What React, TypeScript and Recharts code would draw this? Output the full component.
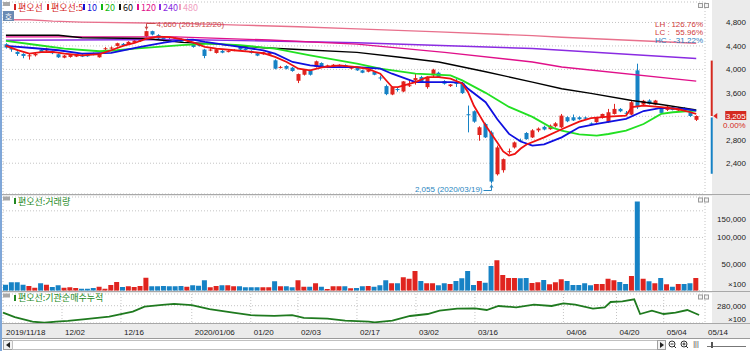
import {
  Bar,
  CartesianGrid,
  Cell,
  ComposedChart,
  Line,
  ReferenceDot,
  ReferenceLine,
  XAxis,
  YAxis,
} from 'recharts'

const FONT = "'Liberation Sans', 'Noto Sans CJK KR', sans-serif"
const KFONT = "'Noto Sans CJK KR', 'Liberation Sans', sans-serif"
const UP = '#e0241f'
const DOWN = '#1682c5'
const GRID = '#c4c4c4'

// trading-day index of each date label
const dateTicks = [0, 10, 20, 32, 42, 50, 60, 70, 80, 95, 104, 112, 119]
const dateLabels = ['2019/11/18', '12/02', '12/16', '2020/01/06', '01/20', '02/03', '02/17', '03/02', '03/16', '04/06', '04/20', '05/04', '05/14']
const priceTicks = [2400, 2800, 3200, 3600, 4000, 4400, 4800]
const volumeTicks = [50000, 100000, 150000]
const instTicks = [280000]

// [open, high, low, close]
const ohlc = [
  [4429, 4446, 4355, 4372], [4372, 4390, 4300, 4338], [4298, 4310, 4230, 4263], [4263, 4275, 4190, 4229],
  [4226, 4270, 4166, 4240], [4240, 4280, 4220, 4263], [4332, 4345, 4280, 4292], [4320, 4370, 4305, 4355],
  [4309, 4320, 4260, 4275], [4258, 4270, 4195, 4206], [4200, 4245, 4190, 4235], [4212, 4255, 4200, 4246],
  [4218, 4262, 4210, 4252], [4252, 4262, 4210, 4218], [4258, 4268, 4215, 4223], [4275, 4285, 4240, 4246],
  [4206, 4270, 4200, 4263], [4352, 4380, 4330, 4360], [4360, 4390, 4345, 4372], [4400, 4455, 4390, 4446],
  [4435, 4450, 4400, 4412], [4429, 4480, 4420, 4469], [4458, 4500, 4450, 4492], [4480, 4525, 4470, 4515],
  [4566, 4660, 4550, 4652], [4652, 4660, 4580, 4595], [4583, 4600, 4510, 4526], [4549, 4565, 4480, 4492],
  [4520, 4540, 4470, 4480], [4538, 4550, 4480, 4492], [4515, 4530, 4460, 4469], [4480, 4525, 4470, 4515],
  [4440, 4455, 4370, 4383], [4420, 4430, 4390, 4400], [4338, 4350, 4190, 4229], [4330, 4360, 4310, 4338],
  [4280, 4355, 4270, 4343], [4315, 4330, 4275, 4286], [4305, 4325, 4290, 4312], [4320, 4345, 4310, 4330],
  [4383, 4395, 4330, 4338], [4350, 4360, 4320, 4330], [4315, 4325, 4270, 4280], [4275, 4285, 4225, 4235],
  [4258, 4300, 4250, 4292], [4252, 4295, 4245, 4286], [4155, 4170, 4000, 4012], [4035, 4060, 4015, 4042],
  [4058, 4070, 4000, 4012], [4029, 4040, 3960, 3972], [3806, 3930, 3766, 3920], [3909, 4005, 3895, 3995],
  [3983, 3995, 3895, 3909], [4040, 4150, 4030, 4138], [4109, 4120, 4045, 4058], [4046, 4080, 4035, 4069],
  [4050, 4090, 4040, 4080], [4060, 4085, 4050, 4068], [4075, 4085, 4030, 4040], [4012, 4050, 4000, 4040],
  [4023, 4035, 3975, 3983], [3983, 3995, 3935, 3943], [3960, 4000, 3950, 3990], [3955, 3965, 3900, 3909],
  [3862, 3895, 3810, 3855], [3715, 3740, 3560, 3578], [3572, 3710, 3560, 3698], [3665, 3700, 3620, 3655],
  [3623, 3800, 3610, 3795], [3722, 3810, 3700, 3730], [3812, 3925, 3740, 3852], [3869, 3890, 3770, 3783],
  [3698, 3880, 3670, 3869], [3897, 4010, 3870, 3995], [3943, 3960, 3860, 3869], [3801, 3815, 3740, 3755],
  [3715, 3750, 3700, 3743], [3770, 3840, 3700, 3762], [3766, 3780, 3580, 3595], [3235, 3383, 2926, 3225],
  [3286, 3300, 3090, 3109], [2881, 3030, 2783, 3012], [3069, 3090, 2830, 2841], [2926, 2955, 2055, 2087],
  [2212, 2700, 2190, 2669], [2281, 2480, 2240, 2469], [2595, 2650, 2560, 2605], [2669, 2770, 2650, 2755],
  [2790, 2820, 2760, 2780], [2915, 2930, 2800, 2812], [2840, 2980, 2830, 2960], [2960, 3010, 2930, 2990],
  [3020, 3040, 2960, 2975], [2980, 3060, 2970, 3040], [3030, 3100, 3010, 3080], [3012, 3240, 3000, 3212],
  [3185, 3200, 3100, 3115], [3183, 3230, 3120, 3130], [3183, 3200, 3140, 3150], [3180, 3195, 3150, 3160],
  [3080, 3095, 3050, 3070], [3100, 3190, 3090, 3183], [3172, 3245, 3160, 3240], [3098, 3326, 3090, 3269],
  [3240, 3412, 3230, 3326], [3326, 3340, 3270, 3286], [3260, 3290, 3220, 3250], [3229, 3460, 3220, 3440],
  [3983, 4097, 3326, 3355], [3400, 3480, 3380, 3465], [3469, 3490, 3400, 3412], [3400, 3480, 3390, 3469],
  [3343, 3360, 3250, 3258], [3309, 3380, 3290, 3366], [3355, 3370, 3300, 3309], [3298, 3360, 3290, 3343],
  [3343, 3355, 3280, 3286], [3269, 3280, 3190, 3205], [3140, 3215, 3120, 3205],
]

// x100 shares
const volumes = [
  11300, 15700, 15700, 11300, 8800, 5700, 13900, 11300, 7000, 10100, 5700, 6300, 5100, 3800, 3800, 5100,
  7600, 3800, 10700, 16400, 7000, 8200, 7000, 8800, 24500, 8200, 8200, 8800, 8200, 8200, 8800, 7600,
  10100, 9500, 19500, 6300, 8800, 10100, 10100, 8200, 8200, 6300, 6300, 6300, 6300, 6300, 17600, 8200,
  8200, 6300, 19500, 7600, 7600, 13900, 7600, 3200, 8200, 8200, 8200, 4500, 5100, 8200, 8800, 7600,
  10100, 19500, 13900, 13900, 25100, 22600, 37000, 18200, 13900, 13900, 10100, 13900, 12600, 18200, 23300, 37000,
  10700, 18200, 15000, 46400, 57100, 29500, 23900, 23900, 23300, 23900, 14500, 15700, 20100, 12000, 15700, 21400,
  18200, 10700, 10700, 13900, 10100, 12600, 12600, 22600, 19500, 16400, 12600, 27600, 167400, 22600, 17600, 13900,
  23900, 12000, 7600, 12600, 12600, 13900, 23900,
]

// moving averages: [day index, value]
const ma5 = [[0, 4400], [2, 4330], [4, 4270], [6, 4295], [8, 4300], [10, 4270], [13, 4240], [16, 4260], [18, 4326], [20, 4400], [22, 4450], [24, 4526], [26, 4560], [28, 4550], [30, 4515], [32, 4460], [34, 4383], [36, 4355], [39, 4326], [42, 4298], [44, 4275], [46, 4212], [48, 4126], [50, 4012], [52, 3983], [54, 4035], [57, 4069], [60, 4040], [62, 4005], [64, 3926], [66, 3700], [67, 3698], [70, 3783], [72, 3869], [74, 3869], [76, 3841], [78, 3760], [79, 3612], [80, 3380], [82, 3041], [84, 2755], [85, 2600], [86, 2530], [87, 2560], [88, 2650], [89, 2720], [92, 2840], [95, 2980], [98, 3110], [100, 3170], [103, 3195], [106, 3212], [107, 3355], [109, 3383], [112, 3355], [115, 3320], [117, 3269], [118, 3241]]
const ma10 = [[0, 4400], [5, 4360], [9, 4326], [13, 4270], [18, 4280], [23, 4383], [27, 4458], [30, 4498], [32, 4509], [34, 4469], [40, 4383], [44, 4326], [46, 4269], [49, 4126], [52, 4069], [55, 4040], [60, 4040], [64, 4012], [66, 3926], [70, 3783], [76, 3783], [78, 3770], [79, 3669], [82, 3440], [84, 3150], [86, 2900], [88, 2770], [90, 2700], [92, 2720], [95, 2841], [98, 3012], [101, 3069], [106, 3155], [109, 3290], [112, 3343], [116, 3326], [118, 3298]]
const ma20 = [[0, 4486], [5, 4420], [10, 4355], [16, 4309], [19, 4326], [22, 4355], [30, 4412], [35, 4440], [40, 4412], [46, 4355], [52, 4240], [60, 4097], [64, 4012], [70, 3926], [76, 3898], [78, 3812], [82, 3600], [86, 3360], [90, 3190], [93, 3020], [95, 2955], [98, 2890], [101, 2869], [103, 2898], [106, 2955], [109, 3069], [112, 3241], [114, 3269], [118, 3298]]
const ma60 = [[0, 4583], [9, 4583], [13, 4540], [24, 4526], [30, 4460], [35, 4440], [44, 4370], [50, 4340], [60, 4290], [67, 4210], [74, 4126], [82, 3960], [90, 3783], [95, 3670], [100, 3590], [107, 3469], [112, 3400], [118, 3310]]
const ma120 = [[0, 4554], [29, 4554], [45, 4500], [60, 4430], [75, 4290], [90, 4126], [95, 4040], [118, 3800]]
const ma240 = [[0, 4498], [30, 4510], [60, 4455], [90, 4355], [95, 4326], [118, 4186]]
const ma480 = [[0, 4846], [4, 4846], [8, 4823], [13, 4806], [24, 4790], [30, 4784], [40, 4755], [50, 4726], [60, 4690], [74, 4640], [90, 4575], [95, 4548], [118, 4445]]

// 기관순매수누적 (x100)
const inst = [[0, 266000], [2, 257000], [5, 248000], [7, 246000], [9, 248000], [11, 249500], [14, 253000], [18, 258000], [20, 263000], [22, 268000], [24, 278000], [27, 281500], [29, 283500], [32, 281000], [35, 273000], [39, 266000], [42, 261000], [46, 259500], [49, 261000], [51, 255500], [55, 254000], [58, 250000], [62, 248000], [63, 246800], [66, 250000], [69, 259400], [72, 263400], [74, 270000], [77, 274000], [80, 274800], [82, 271400], [84, 279400], [87, 276800], [90, 282000], [93, 279400], [95, 284800], [97, 282000], [100, 274000], [102, 276800], [103, 287400], [105, 288800], [107, 292800], [108, 263400], [110, 270000], [112, 263400], [114, 266000], [116, 271400], [118, 261400]]

const highNote = { i: 24, price: 4660, text: '4,660 (2019/12/20)' }
const lowNote = { i: 83, price: 2055, text: '2,055 (2020/03/19)' }
const last = { i: 118, price: 3205, change: '0.00%', rangeTop: 4150, rangeBottom: 2220 }

const rows: any[] = Array.from({ length: 120 }, (_, i) => {
  const k = ohlc[i]
  return k ? { i, o: k[0], h: k[1], l: k[2], c: k[3], v: volumes[i] } : { i }
})
const put = (key: string, pts: number[][]) => pts.forEach(([i, v]) => { rows[i][key] = v })
put('ma5', ma5)
put('ma10', ma10)
put('ma20', ma20)
put('ma60', ma60)
put('ma120', ma120)
put('ma240', ma240)
put('ma480', ma480)
put('inst', inst)

const fmt = (v: number) => v.toLocaleString('en-US')

const Candle = (p: any) => {
  const d = p.payload
  if (!d || d.o == null) return <g />
  const top = Math.min(p.y, p.y + p.height)
  const ht = Math.abs(p.height)
  const py = (v: number) => top + ((d.h - v) / (d.h - d.l)) * ht
  const color = d.c >= d.o ? UP : DOWN
  const cx = Math.round(p.x + p.width / 2) + 0.5
  const b1 = py(Math.max(d.o, d.c))
  const b2 = py(Math.min(d.o, d.c))
  return (
    <g>
      <line x1={cx} x2={cx} y1={top} y2={top + ht} stroke={color} />
      <rect x={cx - 2} y={b1} width={4} height={Math.max(1, b2 - b1)} fill={color} />
    </g>
  )
}

const PriceTick = ({ y, payload }: any) =>
  payload.value === 3200 ? <g /> : (
    <text x={746} y={y} dy={3} textAnchor="end" fontSize={8} fill="#222" fontFamily={FONT}>{fmt(payload.value)}</text>
  )

const VolTick = ({ y, payload }: any) => (
  <text x={746} y={y} dy={payload.value === 150000 ? 11 : 3} textAnchor="end" fontSize={8} fill="#222" fontFamily={FONT}>{fmt(payload.value)}</text>
)

const InstTick = ({ y, payload }: any) => (
  <text x={746} y={y} dy={3} textAnchor="end" fontSize={8} fill="#222" fontFamily={FONT}>{fmt(payload.value)}</text>
)

const DateTick = ({ x, y, payload }: any) => (
  <text x={x + 3} y={y + 12} fontSize={8} fill="#222" fontFamily={FONT}>{dateLabels[dateTicks.indexOf(payload.value)]}</text>
)

const HighMark = ({ cx, cy }: any) => {
  const x = Math.round(cx) + 0.5
  const t = Math.round(cy) - 7.5
  const col = '#c94a4a'
  return (
    <g>
      <polyline points={`${x + 9},${t} ${x},${t} ${x},${cy - 1}`} fill="none" stroke={col} />
      <path d={`M${x - 2},${cy - 4} L${x + 2},${cy - 4} L${x},${cy - 1} Z`} fill={col} />
      <text x={x + 10} y={t + 3} fontSize={8} fill={col} fontFamily={FONT}>{highNote.text}</text>
    </g>
  )
}

const LowMark = ({ cx, cy }: any) => {
  const x = Math.round(cx) + 0.5
  const b = Math.round(cy) + 7.5
  const col = '#2a86c0'
  return (
    <g>
      <polyline points={`${x - 8},${b} ${x},${b} ${x},${cy + 1}`} fill="none" stroke={col} />
      <path d={`M${x - 2},${cy + 4} L${x + 2},${cy + 4} L${x},${cy + 1} Z`} fill={col} />
      <text x={x - 9} y={b + 1} textAnchor="end" fontSize={8} fill={col} fontFamily={FONT}>{lowNote.text}</text>
    </g>
  )
}

const PriceTag = ({ cx, cy }: any) => {
  const y = Math.round(cy)
  const x = cx + 17
  return (
    <g>
      <path d={`M${x},${y} L${x + 4},${y - 3} L${x + 4},${y + 3} Z`} fill={UP} />
      <rect x={x + 12} y={y - 5} width={21} height={9} fill="#d42a20" />
      <text x={x + 32.5} y={y + 3} textAnchor="end" fontSize={8} fill="#fff" fontFamily={FONT}>{fmt(last.price)}</text>
      <text x={x + 32.5} y={y + 12} textAnchor="end" fontSize={8} fill="#d42a20" fontFamily={FONT}>{last.change}</text>
    </g>
  )
}

const rangeShape = (color: string) => (p: any) => (
  <line x1={p.x1 + 15.5} x2={p.x2 + 15.5} y1={p.y1} y2={p.y2} stroke={color} strokeWidth={2} />
)

const maLine = (key: string, color: string, w = 1.6) => (
  <Line
    key={key}
    dataKey={key}
    stroke={color}
    strokeWidth={w}
    dot={false}
    connectNulls
    isAnimationActive={false}
  />
)

const legend = [
  { t: '편오선', c: '#d42020', x: 14 },
  { t: '편오선:5', c: '#d42020', x: 47 },
  { t: '10', c: '#1010d8', x: 83 },
  { t: '20', c: '#10b810', x: 101 },
  { t: '60', c: '#111', x: 119 },
  { t: '120', c: '#e0108a', x: 137 },
  { t: '240', c: '#8a2be2', x: 159 },
  { t: '480', c: '#f0a0c0', x: 179 },
]

const PanelBits = ({ y }: { y: number }) => (
  <g>
    <rect x={3} y={y} width={7} height={4} fill="#a8a8a8" />
    <rect x={698.5} y={y + 1.5} width={4} height={4} fill="#f4f4f4" stroke="#9a9a9a" />
    <rect x={704.5} y={y + 1.5} width={4} height={4} fill="#f4f4f4" stroke="#9a9a9a" />
  </g>
)

export default function App() {
  return (
    <div style={{ position: 'fixed', left: 0, top: 0, width: 750, height: 351, background: '#ebebeb', overflow: 'hidden', fontFamily: FONT }}>
      <div style={{ position: 'absolute', left: 2, top: 0, width: 710, height: 194, background: '#fff' }} />
      <div style={{ position: 'absolute', left: 2, top: 196, width: 710, height: 95, background: '#fff' }} />
      <div style={{ position: 'absolute', left: 2, top: 293, width: 710, height: 30, background: '#fff' }} />

      <div style={{ position: 'absolute', left: 0, top: 0 }}>
        <ComposedChart width={750} height={195} data={rows} margin={{ top: 2, right: 0, bottom: 1, left: 3 }}>
          <CartesianGrid stroke={GRID} strokeDasharray="1 2" />
          <XAxis dataKey="i" ticks={dateTicks} interval={0} tick={false} axisLine={false} tickLine={false} height={0} />
          <YAxis orientation="right" width={45} domain={[1875, 5149]} ticks={priceTicks} interval={0} tick={(p: any) => <PriceTick {...p} />} axisLine={false} tickLine={false} allowDataOverflow />
          <Bar dataKey={(d: any) => (d.o == null ? null : [d.l, d.h])} barSize={5} shape={(p: any) => <Candle {...p} />} isAnimationActive={false} />
          {maLine('ma480', '#e8708c', 1.4)}
          {maLine('ma240', '#8a2be2', 1.4)}
          {maLine('ma120', '#e0108a', 1.4)}
          {maLine('ma60', '#000000', 1.4)}
          {maLine('ma20', '#22e022', 1.8)}
          {maLine('ma10', '#1010e0', 1.8)}
          {maLine('ma5', '#ee1111', 1.8)}
          <ReferenceDot x={highNote.i} y={highNote.price} r={0} shape={(p: any) => <HighMark {...p} />} />
          <ReferenceDot x={lowNote.i} y={lowNote.price} r={0} shape={(p: any) => <LowMark {...p} />} />
          <ReferenceLine segment={[{ x: last.i, y: last.rangeTop }, { x: last.i, y: last.price }]} shape={rangeShape('#d42a20')} />
          <ReferenceLine segment={[{ x: last.i, y: last.price - 25 }, { x: last.i, y: last.rangeBottom }]} shape={rangeShape(DOWN)} />
          <ReferenceDot x={last.i} y={last.price} r={0} shape={(p: any) => <PriceTag {...p} />} />
        </ComposedChart>
      </div>

      <div style={{ position: 'absolute', left: 0, top: 195 }}>
        <ComposedChart width={750} height={96} data={rows} margin={{ top: 2, right: 0, bottom: 0.3, left: 3 }}>
          <CartesianGrid stroke={GRID} strokeDasharray="1 2" />
          <XAxis dataKey="i" ticks={dateTicks} interval={0} tick={false} axisLine={false} tickLine={false} height={0} />
          <YAxis orientation="right" width={45} domain={[0, 176000]} ticks={volumeTicks} interval={0} tick={(p: any) => <VolTick {...p} />} axisLine={false} tickLine={false} allowDataOverflow />
          <Bar dataKey="v" barSize={5} isAnimationActive={false}>
            {rows.map((d) => (
              <Cell key={d.i} fill={d.c >= d.o ? UP : DOWN} />
            ))}
          </Bar>
        </ComposedChart>
      </div>

      <div style={{ position: 'absolute', left: 0, top: 292 }}>
        <ComposedChart width={750} height={46} data={rows} margin={{ top: 2, right: 0, bottom: 0, left: 3 }}>
          <CartesianGrid stroke={GRID} strokeDasharray="1 2" />
          <XAxis dataKey="i" ticks={dateTicks} interval={0} tick={(p: any) => <DateTick {...p} />} axisLine={false} tickLine={false} tickSize={0} tickMargin={0} height={15} />
          <YAxis orientation="right" width={45} domain={[245400, 303400]} ticks={instTicks} interval={0} tick={(p: any) => <InstTick {...p} />} axisLine={false} tickLine={false} allowDataOverflow />
          <Line dataKey="inst" stroke="#1f7a1f" strokeWidth={1.8} dot={false} connectNulls isAnimationActive={false} />
        </ComposedChart>
      </div>

      <svg width={750} height={351} style={{ position: 'absolute', left: 0, top: 0, pointerEvents: 'none' }}>
        <rect x={0} y={0} width={2} height={351} fill="#7ea6d8" />
        <line x1={2} x2={750} y1={194.5} y2={194.5} stroke="#a8a8a8" />
        <line x1={2} x2={750} y1={291.5} y2={291.5} stroke="#a8a8a8" />
        <line x1={2} x2={750} y1={323.5} y2={323.5} stroke="#a8a8a8" />
        <PanelBits y={2} />
        <PanelBits y={196.5} />
        <PanelBits y={293.5} />

        {legend.map((it) => (
          <g key={it.t}>
            <rect x={it.x} y={4} width={2} height={6} fill={it.c} />
            <text x={it.x + 4} y={11} fontSize={9} fill={it.c} fontFamily={KFONT}>{it.t}</text>
          </g>
        ))}
        <rect x={3} y={11} width={11} height={10} fill="#6a8bb3" />
        <text x={8.5} y={19.5} textAnchor="middle" fontSize={8} fill="#fff" fontFamily={KFONT}>호</text>

        <text x={655} y={27} fontSize={8} fill="#d03a3a" fontFamily={FONT}>LH :</text>
        <text x={703} y={27} textAnchor="end" fontSize={8} fill="#d03a3a" fontFamily={FONT}>126.76%</text>
        <text x={655} y={35} fontSize={8} fill="#d03a3a" fontFamily={FONT}>LC :</text>
        <text x={703} y={35} textAnchor="end" fontSize={8} fill="#d03a3a" fontFamily={FONT}>55.96%</text>
        <text x={655} y={43} fontSize={8} fill="#2a80c0" fontFamily={FONT}>HC :</text>
        <text x={703} y={43} textAnchor="end" fontSize={8} fill="#2a80c0" fontFamily={FONT}>-31.22%</text>

        <rect x={14} y={198} width={2} height={6} fill="#228822" />
        <text x={18} y={204.5} fontSize={9} fill="#228822" fontFamily={KFONT}>편오선:거래량</text>
        <rect x={14} y={295} width={2} height={6} fill="#228822" />
        <text x={18} y={301} fontSize={9} fill="#228822" fontFamily={KFONT}>편오선:기관순매수누적</text>

        <text x={746} y={287} textAnchor="end" fontSize={8} fill="#222" fontFamily={FONT}>×100</text>
        <text x={746} y={322} textAnchor="end" fontSize={8} fill="#222" fontFamily={FONT}>×100</text>

        <rect x={2} y={338} width={748} height={13} fill="#fff" />
        <line x1={2} x2={750} y1={338.5} y2={338.5} stroke="#9a9a9a" />
        <rect x={3.5} y={340.5} width={9} height={9} fill="#f2f2f2" stroke="#a0a0a0" />
        <path d="M6,345 L10,342 L10,348 Z" fill="#222" />
        <rect x={12.5} y={340.5} width={645} height={9} fill="#fff" stroke="#c0c0c0" />
        <rect x={657.5} y={340.5} width={8} height={9} fill="#f2f2f2" stroke="#a0a0a0" />
        <path d="M660,342 L664,345 L660,348 Z" fill="#222" />
        <circle cx={672} cy={344} r={3} fill="none" stroke="#333" />
        <line x1={670.5} x2={673.5} y1={344} y2={344} stroke="#333" />
        <line x1={674} x2={676} y1={346} y2={348} stroke="#333" />
        <circle cx={684} cy={344} r={3} fill="none" stroke="#333" />
        <line x1={682.5} x2={685.5} y1={344} y2={344} stroke="#333" />
        <line x1={684} x2={684} y1={342.5} y2={345.5} stroke="#333" />
        <line x1={686} x2={688} y1={346} y2={348} stroke="#333" />
        <text x={696} y={346} textAnchor="middle" fontSize={7} fill="#333" fontFamily={FONT}>|||</text>
        <line x1={707} x2={746} y1={346.5} y2={346.5} stroke="#777" />
        <rect x={711} y={342} width={2} height={6} fill="#555" />
      </svg>
    </div>
  )
}
